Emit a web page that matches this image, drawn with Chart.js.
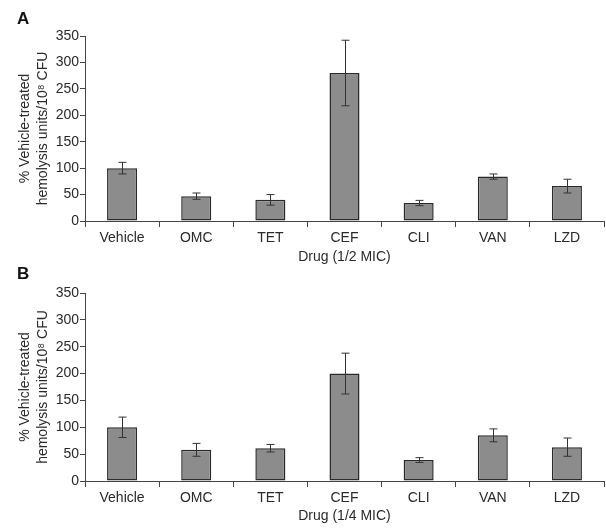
<!DOCTYPE html>
<html>
<head>
<meta charset="utf-8">
<script src="https://cdn.jsdelivr.net/npm/chart.js@4/dist/chart.umd.min.js"></script>
<style>
  html, body { margin: 0; padding: 0; background: #fff; }
  .panel { position: absolute; left: 0; width: 606px; height: 264px; }
</style>
</head>
<body>
<div class="panel" style="top:0"><canvas id="chartA" width="606" height="264"></canvas></div>
<div class="panel" style="top:264px"><canvas id="chartB" width="606" height="264"></canvas></div>
<script>
const drugs = ['Vehicle', 'OMC', 'TET', 'CEF', 'CLI', 'VAN', 'LZD'];
const yTicks = [0, 50, 100, 150, 200, 250, 300, 350];

// panel A: 1/2 MIC
const halfMicMean = [100, 47, 40, 280, 34, 84, 66];
const halfMicErr = [11, 6, 10, 62, 5, 5, 13];

// panel B: 1/4 MIC
const quarterMicMean = [100, 58, 61, 200, 39, 85, 63];
const quarterMicErr = [19, 12, 7, 38, 4.5, 12, 17];

const FONT = "'Liberation Sans', Arial, Helvetica, sans-serif";
const TXT = '#2a2a2a';

const errorBars = {
    id: 'errorBars',
    afterDatasetsDraw(chart, args, opts) {
        const ctx = chart.ctx;
        const meta = chart.getDatasetMeta(0);
        const y = chart.scales.y;
        ctx.save();
        ctx.strokeStyle = '#333';
        ctx.lineWidth = 1;
        meta.data.forEach((bar, i) => {
            const v = opts.mean[i], e = opts.err[i];
            const x = Math.round(bar.x) + 0.5;
            const yt = y.getPixelForValue(v + e);
            const yb = y.getPixelForValue(v - e);
            ctx.beginPath();
            ctx.moveTo(x, yt); ctx.lineTo(x, yb);
            ctx.moveTo(x - 4, yt); ctx.lineTo(x + 4, yt);
            ctx.moveTo(x - 4, yb); ctx.lineTo(x + 4, yb);
            ctx.stroke();
        });
        ctx.restore();
    }
};

const panelLetter = {
    id: 'panelLetter',
    afterDraw(chart, args, opts) {
        const ctx = chart.ctx;
        ctx.save();
        ctx.fillStyle = '#111';
        ctx.font = 'bold 17px ' + FONT;
        ctx.textBaseline = 'middle';
        ctx.fillText(opts.text, 17, opts.y);
        ctx.restore();
    }
};

function drawPanel(id, letter, letterY, mean, err, xTitle, padTop, xHeight, titlePad) {
    const ctx = document.getElementById(id).getContext('2d');
    return new Chart(ctx, {
        type: 'bar',
        data: {
            labels: drugs,
            datasets: [{
                data: mean,
                backgroundColor: '#8c8c8c',
                borderColor: '#2a2a2a',
                borderWidth: 1.5,
                borderSkipped: false,
                barPercentage: 0.405,
                categoryPercentage: 1
            }]
        },
        options: {
            responsive: false,
            animation: false,
            layout: { padding: { left: 0, top: padTop, right: 2, bottom: 0 } },
            plugins: {
                legend: { display: false },
                tooltip: { enabled: false },
                errorBars: { mean: mean, err: err },
                panelLetter: { text: letter, y: letterY }
            },
            scales: {
                x: {
                    grid: { display: true, drawOnChartArea: false, drawTicks: true, tickLength: 6, color: '#444', offset: true },
                    border: { color: '#444' },
                    ticks: { color: TXT, font: { family: FONT, size: 14 }, padding: 3 },
                    title: { display: true, text: xTitle, color: TXT, font: { family: FONT, size: 14, lineHeight: 1 }, padding: { top: 0, bottom: titlePad } },
                    afterFit: s => { s.height = xHeight; }
                },
                y: {
                    min: 0, max: 350,
                    afterBuildTicks: s => { s.ticks = yTicks.map(v => ({ value: v })); },
                    grid: { display: true, drawOnChartArea: false, drawTicks: true, tickLength: 5, color: '#444' },
                    border: { color: '#444' },
                    ticks: { color: TXT, font: { family: FONT, size: 14 }, padding: 1 },
                    title: {
                        display: true,
                        text: ['% Vehicle-treated', 'hemolysis units/10\u2078 CFU'],
                        color: TXT,
                        font: { family: FONT, size: 14, lineHeight: 1.28 },
                        padding: { top: 16, bottom: 0 }
                    },
                    afterFit: s => { s.width = 85; }
                }
            }
        },
        plugins: [errorBars, panelLetter]
    });
}

drawPanel('chartA', 'A', 19, halfMicMean, halfMicErr, 'Drug (1/2 MIC)', 36, 43, 0);
drawPanel('chartB', 'B', 10, quarterMicMean, quarterMicErr, 'Drug (1/4 MIC)', 29, 47, 5);
</script>
</body>
</html>
